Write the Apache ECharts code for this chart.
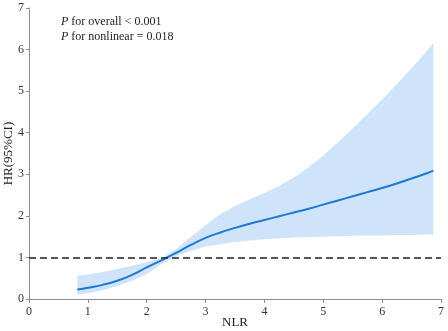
<!DOCTYPE html>
<html>
<head>
<meta charset="utf-8">
<script src="https://cdn.jsdelivr.net/npm/echarts@6/dist/echarts.min.js"></script>
<style>
  html, body { margin: 0; padding: 0; background: #fff; }
  #grafico { width: 448px; height: 331px; }
</style>
</head>
<body>
<div id="grafico"></div>
<script>
// Valores (NLR vs HR con IC 95%)
var nlr =      [0.82, 1.0, 1.25, 1.5, 1.75, 2.0, 2.25, 2.5, 2.75, 3.0, 3.25, 3.5, 3.75, 4.0, 4.25, 4.5, 4.75, 5.0, 5.25, 5.5, 5.75, 6.0, 6.25, 6.5, 6.75, 6.87];
var hr =       [0.23, 0.27, 0.34, 0.44, 0.58, 0.76, 0.93, 1.11, 1.30, 1.47, 1.60, 1.71, 1.81, 1.90, 1.99, 2.08, 2.17, 2.27, 2.37, 2.47, 2.57, 2.67, 2.78, 2.90, 3.02, 3.09];
var inferior = [0.11, 0.14, 0.21, 0.31, 0.44, 0.60, 0.84, 1.03, 1.16, 1.26, 1.32, 1.37, 1.41, 1.44, 1.46, 1.48, 1.49, 1.50, 1.51, 1.52, 1.53, 1.53, 1.54, 1.54, 1.55, 1.55];
var superior = [0.56, 0.59, 0.65, 0.72, 0.80, 0.89, 0.98, 1.20, 1.49, 1.78, 2.04, 2.24, 2.40, 2.55, 2.72, 2.92, 3.17, 3.45, 3.77, 4.10, 4.45, 4.80, 5.17, 5.55, 5.95, 6.16];
var referencia = 1;
var ticksX = [0, 1, 2, 3, 4, 5, 6, 7];
var ticksY = [0, 1, 2, 3, 4, 5, 6, 7];

var fuente = 'Liberation Serif';
var grafico = echarts.init(document.getElementById('grafico'));

var opciones = {
    animation: false,
    grid: { left: 29, right: 7, top: 8, bottom: 32, containLabel: false, outerBoundsMode: 'none' },
    xAxis: {
        type: 'value', min: ticksX[0], max: ticksX[ticksX.length - 1], interval: 1,
        name: 'NLR', nameLocation: 'middle', nameGap: 17, nameMoveOverlap: false,
        nameTextStyle: { fontFamily: fuente, fontSize: 13, color: '#222' },
        axisLine: { lineStyle: { color: '#8c8c8c', width: 1 } },
        axisTick: { length: 4, lineStyle: { color: '#8c8c8c' } },
        axisLabel: { fontFamily: fuente, fontSize: 12, color: '#333', margin: 7 },
        splitLine: { show: false }
    },
    yAxis: {
        type: 'value', min: ticksY[0], max: ticksY[ticksY.length - 1], interval: 1,
        name: 'HR(95%CI)', nameLocation: 'middle', nameGap: 14, nameMoveOverlap: false,
        nameTextStyle: { fontFamily: fuente, fontSize: 13, color: '#222' },
        axisLine: { show: true, lineStyle: { color: '#8c8c8c', width: 1 } },
        axisTick: { show: true, length: 3, lineStyle: { color: '#8c8c8c' } },
        axisLabel: { fontFamily: fuente, fontSize: 12, color: '#333', margin: 5 },
        splitLine: { show: false }
    },
    graphic: [{
        type: 'text', left: 61, top: 14,
        style: {
            text: '{i|P} for overall < 0.001\n{i|P} for nonlinear = 0.018',
            font: '12px ' + fuente, fill: '#222', lineHeight: 15,
            rich: { i: { fontStyle: 'italic', fontFamily: fuente, fontSize: 12, fill: '#222' } }
        }
    }],
    series: [
        {
            // banda del intervalo de confianza
            type: 'custom', z: 1, silent: true,
            data: [[nlr[0], hr[0]]],
            renderItem: function (params, api) {
                var puntos = [];
                for (var i = 0; i < nlr.length; i++) puntos.push(api.coord([nlr[i], superior[i]]));
                for (var j = nlr.length - 1; j >= 0; j--) puntos.push(api.coord([nlr[j], inferior[j]]));
                return { type: 'polygon', shape: { points: puntos }, style: { fill: '#cfe4fa' } };
            }
        },
        {
            type: 'line', z: 3, smooth: true, symbol: 'none',
            data: nlr.map(function (x, i) { return [x, hr[i]]; }),
            lineStyle: { color: '#1f78d1', width: 2 },
            markLine: {
                silent: true, symbol: 'none', label: { show: false }, z: 4,
                lineStyle: { color: '#222', type: [7, 4], width: 1.5 },
                data: [{ yAxis: referencia }]
            }
        }
    ]
};

grafico.setOption(opciones);
</script>
</body>
</html>
